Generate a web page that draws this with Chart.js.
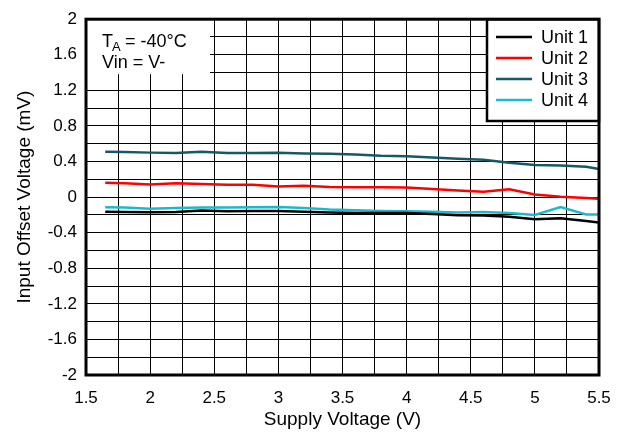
<!DOCTYPE html>
<html>
<head>
<meta charset="utf-8">
<script src="https://cdn.jsdelivr.net/npm/chart.js@4.4.1/dist/chart.umd.min.js"></script>
<style>
  html, body { margin:0; padding:0; background:#fff; }
  #wrap { width:639px; height:433px; position:relative; }
</style>
</head>
<body>
<div id="wrap"><canvas id="c"></canvas></div>
<script>
// offset vs supply voltage, TA = -40C
const supplyV = [1.65, 1.8, 2.0, 2.2, 2.4, 2.6, 2.8, 3.0, 3.2, 3.4, 3.6, 3.8, 4.0, 4.2, 4.4, 4.6, 4.8, 5.0, 5.2, 5.4, 5.5];
const unit1 = [-0.165, -0.167, -0.17, -0.168, -0.15, -0.158, -0.157, -0.155, -0.165, -0.172, -0.178, -0.178, -0.178, -0.19, -0.205, -0.207, -0.222, -0.248, -0.237, -0.27, -0.285];
const unit2 = [0.16, 0.155, 0.142, 0.156, 0.147, 0.14, 0.14, 0.12, 0.128, 0.113, 0.11, 0.11, 0.108, 0.09, 0.075, 0.06, 0.089, 0.03, 0.004, -0.011, -0.018];
const unit3 = [0.51, 0.508, 0.5, 0.495, 0.51, 0.495, 0.497, 0.498, 0.49, 0.488, 0.48, 0.465, 0.46, 0.445, 0.43, 0.42, 0.385, 0.36, 0.355, 0.34, 0.315];
const unit4 = [-0.115, -0.118, -0.13, -0.122, -0.118, -0.117, -0.115, -0.111, -0.122, -0.14, -0.148, -0.155, -0.159, -0.165, -0.172, -0.167, -0.178, -0.2, -0.111, -0.196, -0.196];

const seriesNames = ['Unit 1', 'Unit 2', 'Unit 3', 'Unit 4'];
const seriesColors = ['#000000', '#ff0000', '#175868', '#17bccc'];
const seriesValues = [unit1, unit2, unit3, unit4];

const FONT = 'Liberation Sans, Arial, Helvetica, sans-serif';

function pts(vals){ return supplyV.map((x,i) => ({ x, y: vals[i] })); }

// frame, note box and legend drawn on top of the plot
const overlayPlugin = {
  id: 'overlay',
  afterDatasetsDraw(chart){
    const { ctx, chartArea:a } = chart;
    ctx.save();
    // note box top-left
    ctx.fillStyle = '#fff';
    ctx.fillRect(a.left, a.top, 124, 55);
    ctx.fillStyle = '#000';
    ctx.textBaseline = 'alphabetic';
    ctx.font = '18px ' + FONT;
    ctx.fillText('T', 102, 47);
    ctx.font = '13px ' + FONT;
    ctx.fillText('A', 112, 51);
    ctx.font = '18px ' + FONT;
    ctx.fillText(' = -40°C', 120, 47);
    ctx.fillText('Vin = V-', 102, 68);

    // legend box top-right
    const lx = 487, ly = a.top, lw = a.right - lx, lh = 121 - a.top;
    ctx.fillStyle = '#fff';
    ctx.fillRect(lx, ly, lw, lh);
    ctx.lineWidth = 2.5;
    ctx.strokeStyle = '#000';
    ctx.strokeRect(lx, ly, lw, lh);
    chart.data.datasets.forEach((ds, i) => {
      const y = 37 + i * 21;
      ctx.strokeStyle = ds.borderColor;
      ctx.lineWidth = 2.5;
      ctx.beginPath(); ctx.moveTo(496, y); ctx.lineTo(532, y); ctx.stroke();
      ctx.fillStyle = '#000';
      ctx.font = '18px ' + FONT;
      ctx.textBaseline = 'middle';
      ctx.fillText(ds.label, 541, y + 1);
    });

    // plot frame
    ctx.strokeStyle = '#000';
    ctx.lineWidth = 3;
    ctx.strokeRect(a.left, a.top, a.right - a.left, a.bottom - a.top);
    ctx.restore();
  }
};

new Chart(document.getElementById('c'), {
  type: 'line',
  data: {
    datasets: seriesNames.map((name, i) => ({
      label: name,
      data: pts(seriesValues[i]),
      borderColor: seriesColors[i],
      backgroundColor: seriesColors[i],
      borderWidth: 2.5,
      pointRadius: 0,
      tension: 0,
      fill: false
    }))
  },
  options: {
    responsive: true,
    maintainAspectRatio: false,
    animation: false,
    layout: { padding: { top: 15, right: 40, left: 0, bottom: 0 } },
    plugins: { legend: { display: false }, tooltip: { enabled: false } },
    scales: {
      x: {
        type: 'linear', min: 1.5, max: 5.5,
        afterFit: s => { s.height = 58; },
        grid: { color: '#000', lineWidth: 1, drawTicks: false },
        border: { display: false },
        ticks: {
          stepSize: 0.25, autoSkip: false, maxRotation: 0, padding: 13,
          color: '#000', font: { family: FONT, size: 17 },
          callback: v => (Math.round(v * 100) % 50 === 0 ? String(parseFloat(v.toFixed(2))) : '')
        },
        title: { display: true, text: 'Supply Voltage (V)', color: '#000', font: { family: FONT, size: 19 }, padding: { top: 0, bottom: 2 } }
      },
      y: {
        min: -2, max: 2,
        afterFit: s => { s.width = 86; },
        grid: { color: '#000', lineWidth: 1, drawTicks: false },
        border: { display: false },
        ticks: {
          stepSize: 0.2, autoSkip: false, padding: 9,
          color: '#000', font: { family: FONT, size: 17 },
          callback: v => (Math.round(v * 10) % 4 === 0 ? String(parseFloat(v.toFixed(1))) : '')
        },
        title: { display: true, text: 'Input Offset Voltage (mV)', color: '#000', font: { family: FONT, size: 19 }, padding: { top: 13, bottom: 0 } }
      }
    }
  },
  plugins: [overlayPlugin]
});
</script>
</body>
</html>
